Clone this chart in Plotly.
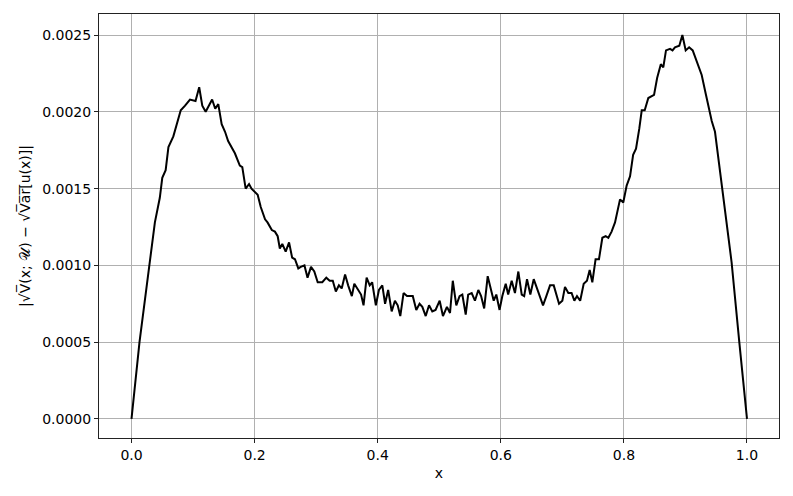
"""Plot the absolute error of the estimated standard deviation."""

import plotly.graph_objects as go

X_VALUES = [
    0.000, 0.013, 0.029, 0.038, 0.046, 0.050, 0.0555, 0.060, 0.068, 0.073,
    0.080, 0.087, 0.095, 0.104, 0.110, 0.115, 0.1205, 0.131, 0.136, 0.141,
    0.1465, 0.152, 0.157, 0.168, 0.176, 0.180, 0.1855, 0.191, 0.195, 0.205,
    0.210, 0.217, 0.221, 0.228, 0.233, 0.2375, 0.241, 0.245, 0.2505, 0.256,
    0.261, 0.2656, 0.271, 0.275, 0.281, 0.286, 0.2916, 0.297, 0.3025, 0.310,
    0.3165, 0.322, 0.327, 0.332, 0.337, 0.3415, 0.347, 0.352, 0.358, 0.362,
    0.3675, 0.373, 0.377, 0.382, 0.387, 0.391, 0.397, 0.402, 0.4075, 0.412,
    0.417, 0.4227, 0.428, 0.4325, 0.4367, 0.442, 0.4476, 0.457, 0.4627, 0.468,
    0.4725, 0.478, 0.4834, 0.4887, 0.494, 0.5007, 0.506, 0.5125, 0.5175, 0.522,
    0.5277, 0.533, 0.5375, 0.543, 0.547, 0.5527, 0.558, 0.5635, 0.568, 0.573,
    0.5787, 0.584, 0.5885, 0.5927, 0.598, 0.6025, 0.608, 0.612, 0.6177, 0.623,
    0.6285, 0.634, 0.638, 0.6426, 0.648, 0.6535, 0.660, 0.6686, 0.674, 0.680,
    0.686, 0.6946, 0.700, 0.7043, 0.7097, 0.715, 0.7195, 0.7238, 0.729, 0.7347,
    0.740, 0.7444, 0.7487, 0.754, 0.7595, 0.765, 0.7704, 0.7747, 0.780, 0.7856,
    0.7937, 0.799, 0.8045, 0.810, 0.815, 0.8197, 0.825, 0.829, 0.8338, 0.8397,
    0.849, 0.854, 0.860, 0.864, 0.8684, 0.875, 0.879, 0.883, 0.890, 0.895,
    0.9004, 0.906, 0.9118, 0.918, 0.9264, 0.9334, 0.937, 0.9427, 0.948, 0.9534,
    0.959, 0.964, 0.9696, 0.975, 0.9875, 1.000,
]

ERROR_VALUES = [
    0.00000, 0.00050, 0.00100, 0.00128, 0.00144, 0.00157, 0.00162, 0.00177, 0.00184, 0.00191,
    0.00201, 0.00204, 0.00208, 0.00207, 0.00216, 0.00204, 0.00200, 0.00208, 0.00202, 0.00205,
    0.00192, 0.00187, 0.00181, 0.00173, 0.00165, 0.00164, 0.00150, 0.00153, 0.00150, 0.00146,
    0.00138, 0.00130, 0.00128, 0.00123, 0.00122, 0.00119, 0.00111, 0.00114, 0.00109, 0.00115,
    0.00105, 0.00104, 0.00098, 0.00099, 0.00100, 0.00092, 0.00099, 0.00096, 0.00089, 0.00089,
    0.00092, 0.00090, 0.00090, 0.00083, 0.00087, 0.00085, 0.00094, 0.00087, 0.00080, 0.00088,
    0.00084, 0.00081, 0.00074, 0.00092, 0.00087, 0.00089, 0.00074, 0.00084, 0.00087, 0.00075,
    0.00084, 0.00070, 0.00077, 0.00074, 0.00067, 0.00082, 0.00080, 0.00080, 0.00071, 0.00075,
    0.00073, 0.00067, 0.00074, 0.00070, 0.00071, 0.00077, 0.00067, 0.00073, 0.00069, 0.00090,
    0.00074, 0.00080, 0.00081, 0.00068, 0.00081, 0.00082, 0.00077, 0.00084, 0.00080, 0.00072,
    0.00093, 0.00084, 0.00077, 0.00081, 0.00071, 0.00080, 0.00088, 0.00081, 0.00090, 0.00082,
    0.00096, 0.00081, 0.00080, 0.00091, 0.00081, 0.00091, 0.00083, 0.00074, 0.00080, 0.00087,
    0.00087, 0.00075, 0.00077, 0.00086, 0.00082, 0.00082, 0.00077, 0.00080, 0.00077, 0.00088,
    0.00090, 0.00097, 0.00089, 0.00104, 0.00104, 0.00118, 0.00119, 0.00118, 0.00122, 0.00128,
    0.00143, 0.00141, 0.00152, 0.00158, 0.00172, 0.00176, 0.00189, 0.00201, 0.00201, 0.00209,
    0.00211, 0.00222, 0.00231, 0.00229, 0.00240, 0.00241, 0.00240, 0.00242, 0.00243, 0.00250,
    0.00240, 0.00242, 0.00240, 0.00233, 0.00224, 0.00211, 0.00204, 0.00194, 0.00187, 0.00170,
    0.00152, 0.00135, 0.00118, 0.00102, 0.00050, 0.00000,
]

X_TICKS = [0.0, 0.2, 0.4, 0.6, 0.8, 1.0]
Y_TICKS = [0.0, 0.0005, 0.0010, 0.0015, 0.0020, 0.0025]

X_LABEL = "x"
Y_LABEL = "|√V̅(x; 𝒰) − √V̅a̅r̅[u(x)]|"

FONT = "DejaVu Sans, Liberation Sans, sans-serif"
FONT_SIZE = 14
GRID_COLOR = "#b0b0b0"

figure = go.Figure(
    go.Scatter(
        x=X_VALUES,
        y=ERROR_VALUES,
        mode="lines",
        line=dict(color="black", width=2),
        showlegend=False,
    )
)

axis_style = dict(
    showline=True,
    mirror=True,
    linecolor="#222222",
    linewidth=1,
    ticks="outside",
    ticklen=4,
    tickwidth=1,
    tickcolor="#222222",
    showgrid=True,
    gridcolor=GRID_COLOR,
    gridwidth=1,
    zeroline=False,
    tickfont=dict(family=FONT, size=FONT_SIZE, color="black"),
)

figure.update_xaxes(
    range=[-0.0528, 1.052],
    tickvals=X_TICKS,
    tickformat=".1f",
    title=dict(text=X_LABEL, font=dict(family=FONT, size=FONT_SIZE, color="black"), standoff=6),
    **axis_style,
)
figure.update_yaxes(
    range=[-0.000124, 0.002637],
    tickvals=Y_TICKS,
    tickformat=".4f",
    title=dict(text=Y_LABEL, font=dict(family=FONT, size=FONT_SIZE, color="black"), standoff=8),
    **axis_style,
)

# the page body keeps its default 8px margin, so the figure is made that much smaller
figure.update_layout(
    width=785,
    height=488,
    margin=dict(l=91, r=14, t=6, b=58, autoexpand=False),
    plot_bgcolor="white",
    paper_bgcolor="white",
)

figure.write_html("out.html")
